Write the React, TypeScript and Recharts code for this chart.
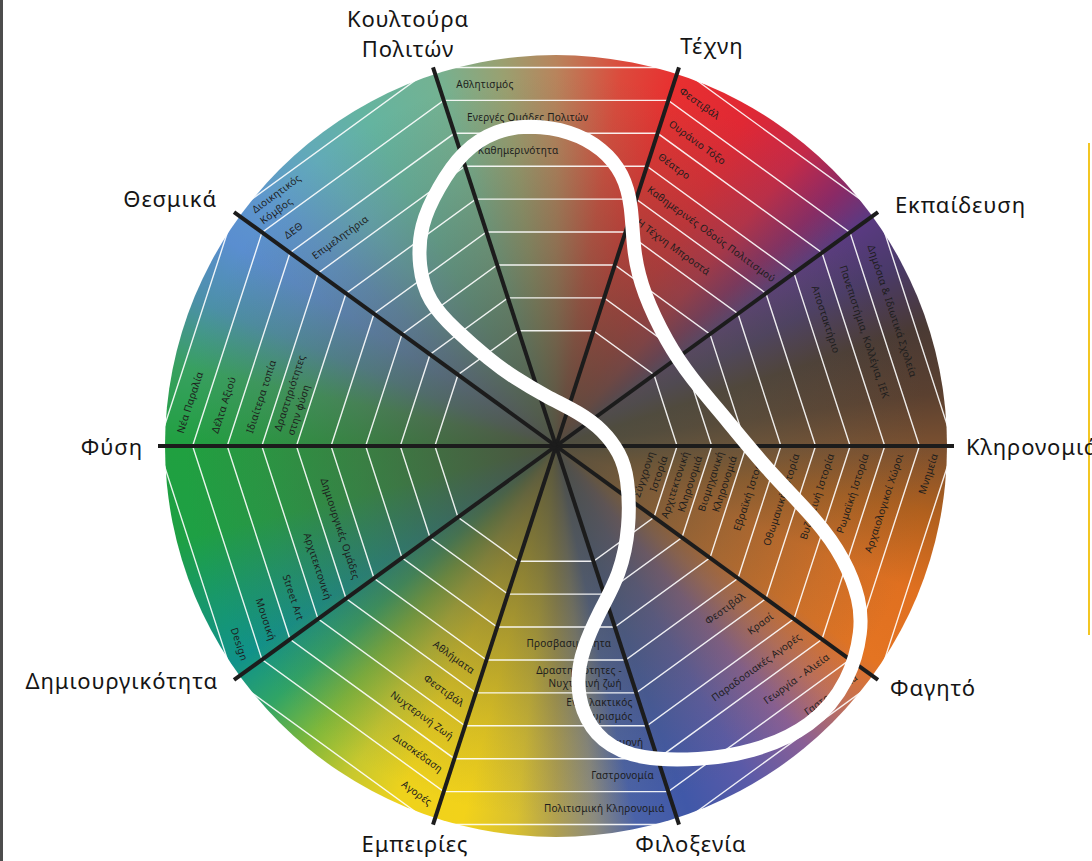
import React from 'react';
import { RadarChart, PolarGrid, PolarAngleAxis, PolarRadiusAxis, Customized, Curve } from 'recharts';

// ---------- data ----------
const categories = [
  'Κουλτούρα Πολιτών',
  'Τέχνη',
  'Εκπαίδευση',
  'Κληρονομιά',
  'Φαγητό',
  'Φιλοξενία',
  'Εμπειρίες',
  'Δημιουργικότητα',
  'Φύση',
  'Θεσμικά',
];

// ring levels of the web (radius axis units)
const ringLevels = [3.5, 4.5, 5.5, 6.5, 7.5, 8.5, 9.5, 10.5, 11.5];
const radiusDomain: [number, number] = [0, 11.5];

// sub-themes per sector: [band level, label]
const kultouraItems: [number, string][] = [
  [11, 'Αθλητισμός'],
  [10, 'Ενεργές Ομάδες Πολιτών'],
  [9, 'Καθημερινότητα'],
];
const texniItems: [number, string][] = [
  [11, 'Φεστιβάλ'],
  [10, 'Ουράνιο Τόξο'],
  [9, 'Θέατρο'],
  [8, 'Καθημερινές Οδούς Πολιτισμού'],
  [7, 'Η Τέχνη Μπροστά'],
];
const ekpaideusiItems: [number, string][] = [
  [11, 'Δημόσια & Ιδιωτικά Σχολεία'],
  [10, 'Πανεπιστήμια, Κολλέγια, ΙΕΚ'],
  [9, 'Αποστακτήριο'],
];
const klironomiaItems: [number, string][] = [
  [11, 'Μνημεία'],
  [10, 'Αρχαιολογικοί Χώροι'],
  [9, 'Ρωμαϊκή Ιστορία'],
  [8, 'Βυζαντινή Ιστορία'],
  [7, 'Οθωμανική Ιστορία'],
  [6, 'Εβραϊκή Ιστορία'],
  [5, 'Βιομηχανική\nΚληρονομιά'],
  [4, 'Αρχιτεκτονική\nΚληρονομιά'],
  [3, 'Σύγχρονη\nΙστορία'],
];
const fagitoItems: [number, string][] = [
  [7, 'Φεστιβάλ'],
  [8, 'Κρασί'],
  [9, 'Παραδοσιακές Αγορές'],
  [10, 'Γεωργία - Αλιεία'],
  [11, 'Γαστρονομία'],
];
const filoxeniaItems: [number, string][] = [
  [6, 'Προσβασιμότητα'],
  [7, 'Δραστηριότητες -\nΝυχτερινή ζωή'],
  [8, 'Εναλλακτικός\nΤουρισμός'],
  [9, 'Διαμονή'],
  [10, 'Γαστρονομία'],
  [11, 'Πολιτισμική Κληρονομιά'],
];
const empeiriesItems: [number, string][] = [
  [7, 'Αθλήματα'],
  [8, 'Φεστιβάλ'],
  [9, 'Νυχτερινή Ζωή'],
  [10, 'Διασκέδαση'],
  [11, 'Αγορές'],
];
const dimiourgikotitaItems: [number, string][] = [
  [7, 'Δημιουργικές Ομάδες'],
  [8, 'Αρχιτεκτονική'],
  [9, 'Street Art'],
  [10, 'Μουσική'],
  [11, 'Design'],
];
const fysiItems: [number, string][] = [
  [11, 'Νέα Παραλία'],
  [10, 'Δέλτα Αξιού'],
  [9, 'Ιδιαίτερα τοπία'],
  [8, 'Δραστηριότητες\nστην φύση'],
];
const thesmikaItems: [number, string][] = [
  [11, 'Διοικητικός\nΚόμβος'],
  [10, 'ΔΕΘ'],
  [9, 'Επιμελητήρια'],
];

// highlighted region outline: [clockwise angle from top (deg), radius level]
const highlightOutline: [number, number][] = [
  [-4.7, 9.3], [2.6, 9.12], [9.0, 8.7], [13.9, 8.1], [17.5, 7.3], [21.8, 6.01],
  [29.6, 5.09], [47.1, 4.38], [62.8, 4.36], [81.4, 5.0], [97.2, 6.23], [105.8, 7.84],
  [111.5, 8.98], [116.9, 9.85], [121.0, 10.32], [128.5, 10.86], [137.6, 11.01],
  [147.7, 10.5], [155.4, 9.98], [165.0, 9.39], [171.5, 8.65], [174.6, 7.67],
  [174.9, 6.79], [172.7, 5.94], [165.0, 4.91], [153.6, 4.16], [137.6, 3.17],
  [113.3, 2.27], [96.2, 1.86], [71.2, 1.43], [36.0, 1.18], [-10.4, 1.44],
  [-31.9, 2.35], [-37.5, 3.13], [-41.0, 4.45], [-41.5, 5.57], [-37.5, 6.54],
  [-31.6, 7.5], [-24.6, 8.2], [-17.6, 8.95], [-10.6, 9.3],
];

const chartData = categories.map((name) => ({ name }));

// ---------- layout ----------
const W = 1092;
const H = 861;
const CX = 556;
const CY = 446;
const OUTER_R = 398;
const CIRCLE_R = 391;
const START_ANGLE = 108;
const END_ANGLE = START_ANGLE - 360;
const FONT = '"Noto Sans", "DejaVu Sans", sans-serif';

const sectorItems = [
  kultouraItems, texniItems, ekpaideusiItems, klironomiaItems, fagitoItems,
  filoxeniaItems, empeiriesItems, dimiourgikotitaItems, fysiItems, thesmikaItems,
];
const sectorAnchor = ['start', 'start', 'start', 'end', 'end', 'end', 'end', 'end', 'start', 'start'];
const sectorOffset = [18, 9, 24, 8, 10, 9, 9, 10, 14, 11];

const spokeLabelLayout: { anchor: string; dx: number; dy: number }[] = [
  { anchor: 'middle', dx: -25, dy: -34 },
  { anchor: 'middle', dx: 33, dy: -22 },
  { anchor: 'start', dx: 17, dy: -8 },
  { anchor: 'start', dx: 12, dy: 0 },
  { anchor: 'start', dx: 12, dy: 7 },
  { anchor: 'middle', dx: 12, dy: 18 },
  { anchor: 'middle', dx: -18, dy: 18 },
  { anchor: 'end', dx: -16, dy: 0 },
  { anchor: 'end', dx: -15, dy: 0 },
  { anchor: 'end', dx: -17, dy: -14 },
];

const rOf = (level: number) => (level / radiusDomain[1]) * OUTER_R;
const polar = (angleMath: number, r: number) => {
  const rad = (-angleMath * Math.PI) / 180;
  return { x: CX + r * Math.cos(rad), y: CY + r * Math.sin(rad) };
};

const conic = `conic-gradient(from 0deg at 50% 50%,
  #b8845c 0deg, #dc4a3c 10deg, #e83030 18deg, #e02834 30deg, #c42a48 40deg,
  #8a2a66 48deg, #5a3a82 54deg, #4a3a6a 62deg, #4a3a34 72deg, #5a4030 82deg,
  #7a5030 90deg, #b0601e 100deg, #e07020 112deg, #e47422 124deg, #c0705a 132deg,
  #8a5f95 140deg, #5a5aa8 150deg, #4058a8 160deg, #4a62a8 168deg, #8a8a80 174deg,
  #b0a050 180deg, #d8c030 186deg, #f2d21a 194deg, #eed21c 204deg, #c8c82e 212deg,
  #80b83a 220deg, #30a466 228deg, #10928a 236deg, #18986a 246deg, #1ea044 256deg,
  #20a040 270deg, #38a060 282deg, #4c90a8 292deg, #5a8ed0 302deg, #5e96cc 310deg,
  #62aab8 320deg, #64b4a0 330deg, #74b292 342deg, #9aa070 352deg, #b8845c 360deg)`;
const shade = `radial-gradient(circle closest-side at 50% 50%,
  rgba(78,78,64,0.96) 0%, rgba(82,82,66,0.72) 25%, rgba(88,88,70,0.45) 50%,
  rgba(95,95,75,0.18) 75%, rgba(100,100,80,0) 95%)`;

// ---------- renderers ----------
const renderSpokeLabel = (props: any) => {
  const { payload, index } = props;
  const angle = payload.coordinate as number;
  const end = polar(angle, OUTER_R);
  const lay = spokeLabelLayout[index];
  const x = end.x + lay.dx;
  const y = end.y + lay.dy;
  const label = String(payload.value);
  const lines = index === 0 ? label.split(' ') : [label];
  const lh = 30;
  return (
    <text
      x={x}
      y={y}
      textAnchor={lay.anchor as any}
      dominantBaseline="central"
      fontFamily={FONT}
      fontSize={22}
      letterSpacing={0.9}
      fill="#151515"
    >
      {lines.map((ln, k) => (
        <tspan key={k} x={x} y={y + (k - (lines.length - 1) / 2) * lh}>
          {ln}
        </tspan>
      ))}
    </text>
  );
};

const SubLabels = () => {
  const step = 360 / categories.length;
  const out: React.ReactNode[] = [];
  sectorItems.forEach((items, i) => {
    const a0 = START_ANGLE - i * step;
    const a1 = a0 - step;
    items.forEach(([lvl, label], j) => {
      const r = rOf(lvl);
      const p0 = polar(a0, r);
      const p1 = polar(a1, r);
      const len = Math.hypot(p1.x - p0.x, p1.y - p0.y);
      const ux = (p1.x - p0.x) / len;
      const uy = (p1.y - p0.y) / len;
      const anchor = sectorAnchor[i];
      const off = sectorOffset[i];
      const x = p0.x + ux * off;
      const y = p0.y + uy * off;
      const rx = anchor === 'start' ? ux : -ux;
      const ry = anchor === 'start' ? uy : -uy;
      const rot = (Math.atan2(ry, rx) * 180) / Math.PI;
      const lines = label.split('\n');
      out.push(
        <text
          key={`${i}-${j}`}
          transform={`translate(${x},${y}) rotate(${rot})`}
          x={0}
          y={0}
          textAnchor={anchor as any}
          dominantBaseline="central"
          fontFamily={FONT}
          fontSize={10}
          letterSpacing={0.25}
          fill="#1d1d1d"
        >
          {lines.map((ln, k) => (
            <tspan key={k} x={0} y={(k - (lines.length - 1) / 2) * 13.8}>
              {ln}
            </tspan>
          ))}
        </text>
      );
    });
  });
  return <g className="sub-labels">{out}</g>;
};

const HighlightCurve = () => {
  const points = highlightOutline.map(([cw, lvl]) => polar(90 - cw, rOf(lvl)));
  return (
    <Curve
      type="basisClosed"
      points={points as any}
      stroke="#ffffff"
      strokeWidth={14}
      fill="none"
    />
  );
};

export default function App() {
  return (
    <div
      style={{
        position: 'absolute',
        left: 0,
        top: 0,
        width: W,
        height: H,
        background: '#ffffff',
        overflow: 'hidden',
        fontFamily: FONT,
      }}
    >
      <div style={{ position: 'absolute', left: 0, top: 0, width: 3, height: H, background: '#4d4d4d' }} />
      <div style={{ position: 'absolute', left: 1088, top: 143, width: 2, height: 492, background: '#f3c623' }} />
      <div
        style={{
          position: 'absolute',
          left: CX - CIRCLE_R,
          top: CY - CIRCLE_R,
          width: 2 * CIRCLE_R,
          height: 2 * CIRCLE_R,
          borderRadius: '50%',
          background: `${shade}, ${conic}`,
        }}
      />
      <div style={{ position: 'absolute', left: 0, top: 0 }}>
        <RadarChart
          width={W}
          height={H}
          data={chartData}
          cx={CX}
          cy={CY}
          outerRadius={OUTER_R}
          startAngle={START_ANGLE}
          endAngle={END_ANGLE}
          margin={{ top: 0, right: 0, bottom: 0, left: 0 }}
        >
          <PolarRadiusAxis
            type="number"
            domain={radiusDomain}
            ticks={ringLevels}
            tick={false}
            axisLine={false}
            tickLine={false}
          />
          <PolarGrid
            gridType="polygon"
            radialLines={false}
            polarRadius={ringLevels.map(rOf)}
            stroke="#ffffff"
            strokeWidth={1.4}
            strokeOpacity={0.9}
          />
          <PolarGrid gridType="polygon" polarRadius={[]} stroke="#1c1c1c" strokeWidth={4} />
          <Customized component={SubLabels} />
          <Customized component={HighlightCurve} />
          <PolarAngleAxis dataKey="name" type="category" tick={renderSpokeLabel} tickLine={false} axisLine={false} />
        </RadarChart>
      </div>
    </div>
  );
}
